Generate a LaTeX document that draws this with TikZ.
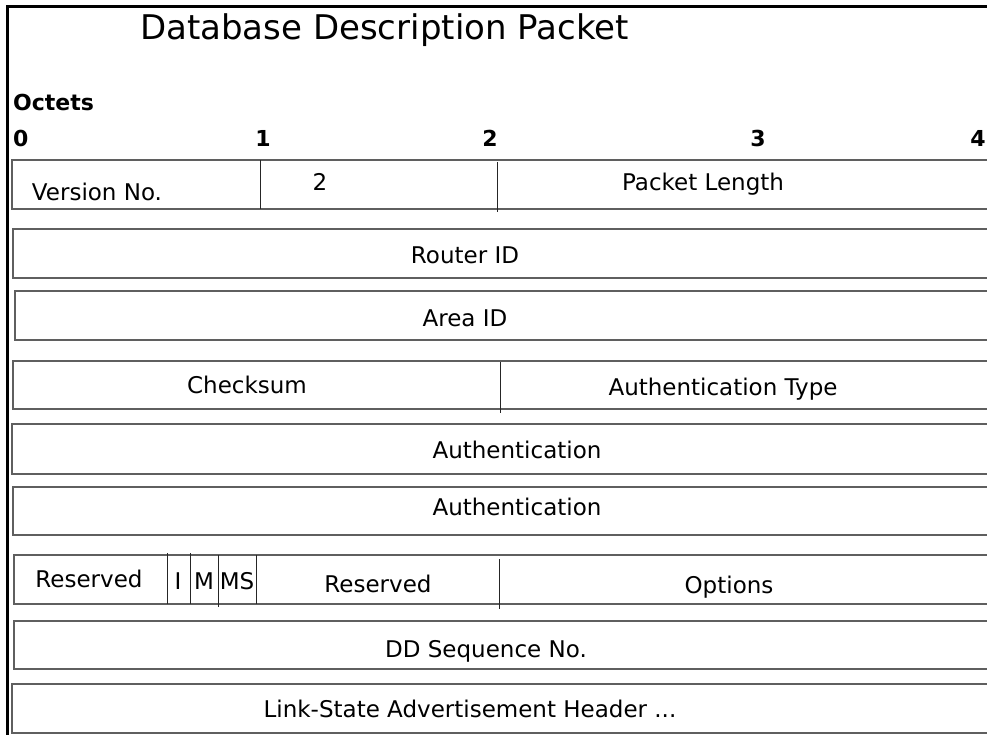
\documentclass[tikz,border=0pt]{standalone}
\usepackage{fontspec}
\setmainfont{DejaVu Sans}
\usepackage{xcolor}
\usetikzlibrary{positioning}
\definecolor{rulegray}{RGB}{95,95,95}

\begin{document}
\begin{tikzpicture}[
    x=1pt, y=-1pt,
    field/.style={draw=rulegray, line width=1.3pt},
    divider/.style={draw=black!85, line width=1pt},
    lbl/.style={anchor=base, inner sep=0pt, font=\fontsize{23}{27}\selectfont},
    octet/.style={anchor=base, inner sep=0pt, font=\fontsize{22}{26}\selectfont\bfseries}
  ]
  \useasboundingbox (0,0) rectangle (987,734);
  \clip (0,0) rectangle (987,734);

  % outer frame
  \draw[line width=3pt] (7.5,736) -- (7.5,6.5) -- (992,6.5);

  \node[anchor=base, inner sep=0pt, font=\fontsize{34}{40}\selectfont] (title)
    at (384.5,39) {Database Description Packet};
  \node[octet, anchor=base west] (octets) at (13,110) {Octets};
  \node[octet, anchor=base west] (oct0) at (13,146) {0};
  \node[octet] (oct1) at (263,146) {1};
  \node[octet] (oct2) at (490,146) {2};
  \node[octet] (oct3) at (758,146) {3};
  \node[octet] (oct4) at (978,146) {4};

  % row 1
  \draw[field] (12,160) rectangle (1000,209);
  \draw[divider] (260,160) -- (260,209);
  \draw[divider] (497,162) -- (497,212);
  \node[lbl] (version) at (97,200) {Version No.};
  \node[lbl] (type) at (320,190) {2};
  \node[lbl] (pktlen) at (703,190) {Packet Length};

  % rows 2 and 3
  \draw[field] (13,229) rectangle (1000,278);
  \node[lbl] (router) at (465,263) {Router ID};
  \draw[field] (15,291) rectangle (1000,340);
  \node[lbl] (area) at (465,326) {Area ID};

  % row 4
  \draw[field] (13,361) rectangle (1000,409);
  \draw[divider] (500,362) -- (500,413);
  \node[lbl] (cksum) at (247,393) {Checksum};
  \node[lbl] (autype) at (723,395) {Authentication Type};

  % rows 5 and 6
  \draw[field] (12,424) rectangle (1000,474);
  \node[lbl] (auth1) at (517,458) {Authentication};
  \draw[field] (13,487) rectangle (1000,535);
  \node[lbl] (auth2) at (517,515) {Authentication};

  % row 7
  \draw[field] (14,555) rectangle (1000,604);
  \draw[divider] (167,553) -- (167,604);
  \draw[divider] (190,553) -- (190,604);
  \draw[divider] (218,555) -- (218,607);
  \draw[divider] (256,555) -- (256,604);
  \draw[divider] (499,559) -- (499,609);
  \node[lbl] (resv1) at (89,587) {Reserved};
  \node[lbl] (ibit) at (178,589) {I};
  \node[lbl] (mbit) at (204,589) {M};
  \node[lbl] (msbit) at (237,589) {MS};
  \node[lbl] (resv2) at (378,592) {Reserved};
  \node[lbl] (opts) at (729,593) {Options};

  % rows 8 and 9
  \draw[field] (14,621) rectangle (1000,669);
  \node[lbl] (ddseq) at (486,657) {DD Sequence No.};
  \draw[field] (12,684) rectangle (1000,733);
  \node[lbl] (lsahdr) at (470,717) {Link-State Advertisement Header ...};
\end{tikzpicture}
\end{document}
